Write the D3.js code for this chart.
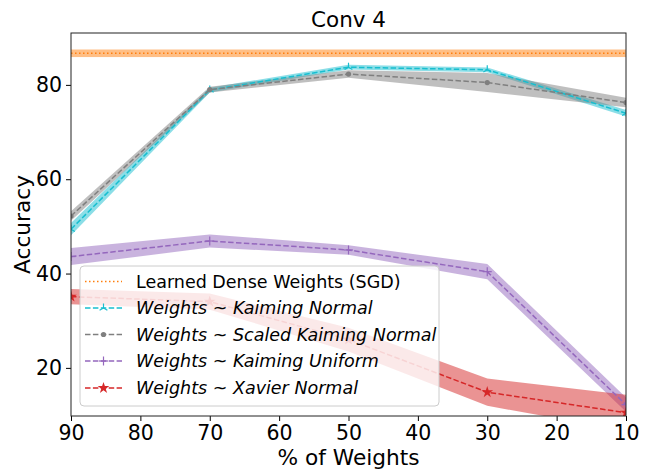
<!DOCTYPE html>
<html><head><meta charset="utf-8">
<script src="https://cdn.jsdelivr.net/npm/d3@7"></script>
<style>body{margin:0;background:#fff}svg{display:block;font-family:"DejaVu Sans",sans-serif}</style>
</head><body><svg id="c" width="650" height="470"></svg>
<script>
const percents = [90, 70, 50, 30, 10];
const xTicks = [90, 80, 70, 60, 50, 40, 30, 20, 10];
const yTicks = [20, 40, 60, 80];
const sgdMean = 86.7, sgdStd = 0.8;
const kaimingNormal = [49.4, 78.9, 83.75, 83.2, 74.0];
const kaimingNormalStd = [1.3, 0.5, 0.5, 0.5, 0.7];
const scaledKaiming = [52.2, 79.0, 82.3, 80.5, 76.25];
const scaledKaimingStd = [1.0, 0.6, 0.8, 2.0, 1.0];
const kaimingUniform = [43.6, 46.9, 45.0, 40.4, 12.2];
const kaimingUniformStd = [1.8, 1.4, 1.0, 1.6, 1.5];
const xavierNormal = [35.1, 34.05, 26.0, 14.85, 10.5];
const xavierNormalStd = [1.6, 1.7, 2.5, 2.9, 3.8];
const seriesNames = ["Kaiming Normal", "Scaled Kaiming Normal", "Kaiming Uniform", "Xavier Normal"];

const svg = d3.select("#c");
const L = 71, R = 626, T = 33, B = 416;
const x = d3.scaleLinear().domain([90, 10]).range([L, R]);
const y = d3.scaleLinear().domain([9.8, 91.0]).range([B, T]);

svg.append("defs").append("clipPath").attr("id", "clip")
  .append("rect").attr("x", L).attr("y", T).attr("width", R - L).attr("height", B - T);

const series = [
  {name: seriesNames[0], v: kaimingNormal, s: kaimingNormalStd, c: "#17becf", m: "tri"},
  {name: seriesNames[1], v: scaledKaiming, s: scaledKaimingStd, c: "#7f7f7f", m: "dot"},
  {name: seriesNames[2], v: kaimingUniform, s: kaimingUniformStd, c: "#9467bd", m: "plus"},
  {name: seriesNames[3], v: xavierNormal, s: xavierNormalStd, c: "#d62728", m: "star"}
];

const g = svg.append("g").attr("clip-path", "url(#clip)");
g.append("rect").attr("x", L).attr("width", R - L)
  .attr("y", y(sgdMean + sgdStd)).attr("height", y(sgdMean - sgdStd) - y(sgdMean + sgdStd))
  .attr("fill", "#ff7f0e").attr("opacity", 0.5);
const area = d3.area().x(d => x(d.p)).y0(d => y(d.v - d.s)).y1(d => y(d.v + d.s));
const line = d3.line().x(d => x(d.p)).y(d => y(d.v));
series.forEach(sr => {
  sr.pts = percents.map((p, i) => ({p, v: sr.v[i], s: sr.s[i]}));
  g.append("path").attr("d", area(sr.pts)).attr("fill", sr.c).attr("opacity", 0.5);
});
g.append("line").attr("x1", L).attr("x2", R).attr("y1", y(sgdMean)).attr("y2", y(sgdMean))
  .attr("stroke", "#ff7f0e").attr("stroke-width", 1.5).attr("stroke-dasharray", "1.5,2.5");

function marker(sel, type, cx, cy, c) {
  if (type === "tri") {
    const r = 4.5;
    [[0, -r], [-r * 0.866, r * 0.5], [r * 0.866, r * 0.5]].forEach(([dx, dy]) =>
      sel.append("line").attr("x1", cx).attr("y1", cy).attr("x2", cx + dx).attr("y2", cy + dy)
        .attr("stroke", c).attr("stroke-width", 1.2));
  } else if (type === "dot") {
    sel.append("circle").attr("cx", cx).attr("cy", cy).attr("r", 2.6).attr("fill", c);
  } else if (type === "plus") {
    sel.append("line").attr("x1", cx - 4.5).attr("x2", cx + 4.5).attr("y1", cy).attr("y2", cy).attr("stroke", c).attr("stroke-width", 1.2);
    sel.append("line").attr("x1", cx).attr("x2", cx).attr("y1", cy - 4.5).attr("y2", cy + 4.5).attr("stroke", c).attr("stroke-width", 1.2);
  } else if (type === "star") {
    sel.append("path").attr("d", d3.symbol().type(d3.symbolStar).size(42)())
      .attr("transform", `translate(${cx},${cy})`).attr("fill", c);
  }
}

series.forEach(sr => {
  g.append("path").attr("d", line(sr.pts)).attr("fill", "none").attr("stroke", sr.c)
    .attr("stroke-width", 1.5).attr("stroke-dasharray", "5.5,2.4");
  sr.pts.forEach(d => marker(g, sr.m, x(d.p), y(d.v), sr.c));
});

const xa = svg.append("g").attr("transform", `translate(0,${B})`)
  .call(d3.axisBottom(x).tickValues(xTicks).tickFormat(d3.format("d")).tickSize(5).tickPadding(4));
const ya = svg.append("g").attr("transform", `translate(${L},0)`)
  .call(d3.axisLeft(y).tickValues(yTicks).tickFormat(d3.format("d")).tickSize(5).tickPadding(4));
[xa, ya].forEach(a => {
  a.select(".domain").remove();
  a.selectAll("line").attr("stroke", "#000").attr("stroke-width", 1);
  a.selectAll("text").attr("font-size", "20.5px").attr("fill", "#000").attr("font-family", "DejaVu Sans");
});
svg.append("rect").attr("x", L).attr("y", T).attr("width", R - L).attr("height", B - T)
  .attr("fill", "none").attr("stroke", "#222").attr("stroke-width", 1);

svg.append("text").attr("x", (L + R) / 2).attr("y", 27).attr("text-anchor", "middle")
  .attr("font-size", "21.5px").text("Conv 4");
svg.append("text").attr("x", (L + R) / 2).attr("y", 465).attr("text-anchor", "middle")
  .attr("font-size", "21.7px").text("% of Weights");
svg.append("text").attr("transform", `translate(30,${(T + B) / 2}) rotate(-90)`).attr("text-anchor", "middle")
  .attr("font-size", "21.7px").text("Accuracy");

const lg = svg.append("g");
lg.append("rect").attr("x", 80).attr("y", 266).attr("width", 359).attr("height", 140).attr("rx", 4)
  .attr("fill", "#fff").attr("fill-opacity", 0.8).attr("stroke", "#ccc").attr("stroke-width", 1);
const ly = [281.5, 308, 334.5, 361, 388];
lg.append("line").attr("x1", 85).attr("x2", 122).attr("y1", ly[0]).attr("y2", ly[0])
  .attr("stroke", "#ff7f0e").attr("stroke-width", 1.5).attr("stroke-dasharray", "1.5,2.5");
lg.append("text").attr("x", 136).attr("y", ly[0] + 6.3).attr("font-size", "17.5px").text("Learned Dense Weights (SGD)");
series.forEach((sr, i) => {
  const yy = ly[i + 1];
  lg.append("line").attr("x1", 85).attr("x2", 122).attr("y1", yy).attr("y2", yy)
    .attr("stroke", sr.c).attr("stroke-width", 1.5).attr("stroke-dasharray", "5.5,2.4");
  marker(lg, sr.m, 103.5, yy, sr.c);
  const t = lg.append("text").attr("x", 136).attr("y", yy + 6.3).attr("font-size", "17.5px");
  t.append("tspan").attr("font-style", "italic").text("Weights");
  t.append("tspan").text(" ~ ");
  t.append("tspan").attr("font-style", "italic").text(sr.name);
});
</script></body></html>
